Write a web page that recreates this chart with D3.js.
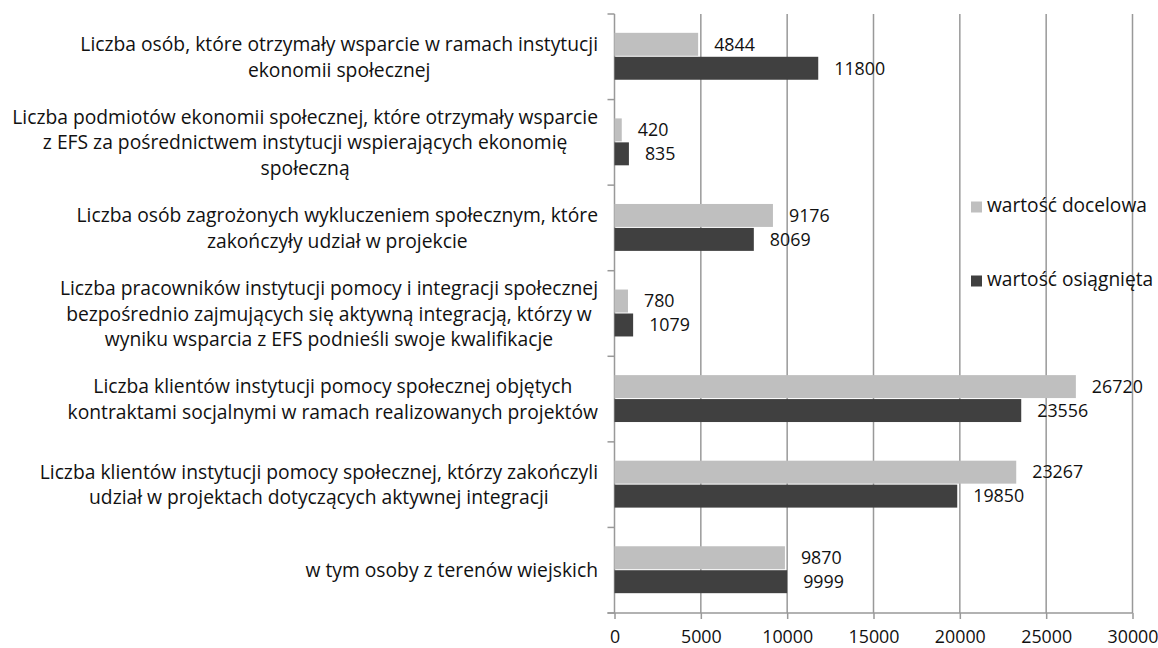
<!DOCTYPE html>
<html>
<head>
<meta charset="utf-8">
<script src="https://cdn.jsdelivr.net/npm/d3@7"></script>
<style>
  html, body { margin: 0; padding: 0; background: #fff; }
  svg { display: block; }
  text { font-family: "Open Sans", "Noto Sans", sans-serif; fill: #111; }
</style>
</head>
<body>
<svg id="chart" width="1158" height="648"></svg>
<script>
// ---- data ----
const categories = [
  ["Liczba osób, które otrzymały wsparcie w ramach instytucji", "ekonomii społecznej"],
  ["Liczba podmiotów ekonomii społecznej, które otrzymały wsparcie", "z EFS za pośrednictwem instytucji wspierających ekonomię", "społeczną"],
  ["Liczba osób zagrożonych wykluczeniem społecznym, które", "zakończyły udział w projekcie"],
  ["Liczba pracowników instytucji pomocy i integracji społecznej", "bezpośrednio zajmujących się aktywną integracją, którzy w", "wyniku wsparcia z EFS podnieśli swoje kwalifikacje"],
  ["Liczba klientów instytucji pomocy społecznej objętych", "kontraktami socjalnymi w ramach realizowanych projektów"],
  ["Liczba klientów instytucji pomocy społecznej, którzy zakończyli", "udział w projektach dotyczących aktywnej integracji"],
  ["w tym osoby z terenów wiejskich"]
];
const seriesNames = ["wartość docelowa", "wartość osiągnięta"];
const targetValues   = [4844, 420, 9176, 780, 26720, 23267, 9870];
const achievedValues = [11800, 835, 8069, 1079, 23556, 19850, 9999];
const xTicks = [0, 5000, 10000, 15000, 20000, 25000, 30000];

// ---- layout ----
const svg = d3.select("#chart");
const colors = { "wartość docelowa": "#bfbfbf", "wartość osiągnięta": "#404040" };
const gridColor = "#999";

const catIdx = d3.range(categories.length);
const x = d3.scaleLinear().domain([0, 30000]).range([614.5, 1132.5]);
const y = d3.scaleBand().domain(catIdx).range([14, 613]).paddingInner(0.44).paddingOuter(0.22);
const sub = d3.scaleBand().domain(seriesNames).range([0, y.bandwidth()]);
const step = y.step();
const yTop = 14, yBot = 613;

// gridlines
svg.append("g").selectAll("line").data(xTicks.slice(1)).join("line")
  .attr("x1", d => x(d)).attr("x2", d => x(d))
  .attr("y1", yTop).attr("y2", yBot)
  .attr("stroke", gridColor).attr("stroke-width", 1.5);

// x axis
const xAxis = d3.axisBottom(x).tickValues(xTicks).tickSize(6).tickSizeOuter(0).tickFormat(d3.format("d"));
const gx = svg.append("g").attr("transform", `translate(0,${yBot})`).call(xAxis);
gx.select(".domain").attr("stroke", gridColor).attr("stroke-width", 1.5)
  .attr("d", `M${x(0) - 7},0H${x(30000)}`);
gx.selectAll(".tick line").attr("stroke", gridColor).attr("stroke-width", 1.5);
gx.selectAll(".tick text").attr("y", 0).attr("dy", 0)
  .attr("transform", "translate(0,30)")
  .style("font-family", '"Open Sans", sans-serif').attr("fill", "#111");

// y axis (category boundary ticks)
const bounds = d3.range(categories.length + 1).map(i => yTop + i * step);
svg.append("line").attr("x1", x(0)).attr("x2", x(0)).attr("y1", yTop).attr("y2", yBot)
  .attr("stroke", gridColor).attr("stroke-width", 1.5);
svg.append("g").selectAll("line").data(bounds).join("line")
  .attr("x1", x(0) - 7).attr("x2", x(0)).attr("y1", d => d).attr("y2", d => d)
  .attr("stroke", gridColor).attr("stroke-width", 1.5);

// bars
const rows = [];
catIdx.forEach(i => {
  rows.push({ cat: i, s: seriesNames[0], v: targetValues[i] });
  rows.push({ cat: i, s: seriesNames[1], v: achievedValues[i] });
});
svg.append("g").selectAll("rect").data(rows).join("rect")
  .attr("x", x(0)).attr("width", d => x(d.v) - x(0))
  .attr("y", d => y(d.cat) + sub(d.s)).attr("height", sub.bandwidth() - 1)
  .attr("fill", d => colors[d.s]);

// value labels
const valLabels = svg.append("g").selectAll("text").data(rows).join("text")
  .attr("x", d => x(d.v) + 16)
  .attr("y", d => y(d.cat) + sub(d.s) + sub.bandwidth() / 2 + 1)
  .attr("dominant-baseline", "middle")
  .text(d => d.v);

// category labels
const labelRight = 598;
const lineH = 25.5;
const catG = svg.append("g");
const catTexts = [];
categories.forEach((lines, i) => {
  const cy = y(i) + y.bandwidth() / 2 + 2;
  const t = catG.append("text").attr("text-anchor", "middle").attr("dominant-baseline", "middle");
  lines.forEach((ln, j) => {
    t.append("tspan").attr("y", cy + (j - (lines.length - 1) / 2) * lineH).text(ln);
  });
  catTexts.push({ t, lines });
});

// legend
const leg = svg.append("g");
const legY = [207, 281];
seriesNames.forEach((s, i) => {
  leg.append("rect").attr("x", 971).attr("y", legY[i] - 5.5).attr("width", 11).attr("height", 11).attr("fill", colors[s]);
  leg.append("text").attr("x", 987).attr("y", legY[i]).attr("dominant-baseline", "middle").text(s);
});

// ---- font fitting to match reference widths ----
catG.selectAll("text").style("font-size", "16px");
const probe = catTexts[1].t.select("tspan").node();
const catFs = 16 * 586 / probe.getComputedTextLength();
catG.selectAll("text").style("font-size", catFs + "px");
catTexts.forEach(({ t }) => {
  const maxW = d3.max(t.selectAll("tspan").nodes(), n => n.getComputedTextLength());
  t.selectAll("tspan").attr("x", labelRight - maxW / 2);
});
// tick labels: "30000" ~51 px wide
const tickTexts = gx.selectAll(".tick text");
tickTexts.style("font-size", "16px");
const lastTick = tickTexts.nodes()[tickTexts.nodes().length - 1];
const tickFs = 16 * 51 / lastTick.getComputedTextLength();
tickTexts.style("font-size", tickFs + "px");
valLabels.style("font-size", tickFs + "px");
// legend: "wartość docelowa" ~160 px wide
const legTexts = leg.selectAll("text");
legTexts.style("font-size", "16px");
const legFs = 16 * 160 / legTexts.nodes()[0].getComputedTextLength();
legTexts.style("font-size", legFs + "px");
</script>
</body>
</html>
